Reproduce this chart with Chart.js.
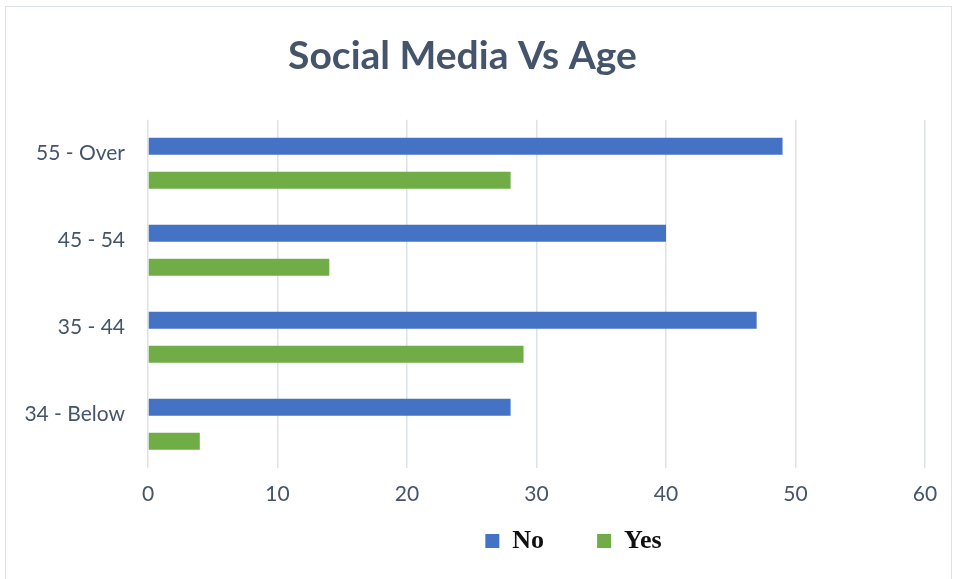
<!DOCTYPE html>
<html>
<head>
<meta charset="utf-8">
<script src="https://cdn.jsdelivr.net/npm/chart.js@4.4.0/dist/chart.umd.min.js"></script>
<style>
  html, body { margin: 0; padding: 0; background: #fff; }
  #wrap { position: absolute; left: 0; top: 0; width: 955px; height: 579px; }
  #frame { position: absolute; left: 5px; top: 6px; width: 945px; height: 590px; border: 1px solid #dde2e8; }
</style>
</head>
<body>
<div id="frame"></div>
<div id="wrap"><canvas id="MyChart"></canvas></div>
<script>
// data
const ageGroups = ['55 - Over', '45 - 54', '35 - 44', '34 - Below'];
const noValues = [49, 40, 47, 28];
const yesValues = [28, 14, 29, 4];
const xTicks = [0, 10, 20, 30, 40, 50, 60];

const textColor = '#44546a';
Chart.defaults.font.family = 'Lato, "Open Sans", sans-serif';

// the legend sits right of centre and lower than the layout puts it
const legendShift = {
  id: 'legendShift',
  afterLayout(chart) {
    const lg = chart.legend;
    lg.left += 111;
    lg.right += 111;
    lg.top = 475;
    lg.bottom = 579;
  }
};

const chartContainer = document.getElementById('MyChart');

const chart = new Chart(chartContainer, {
  type: 'bar',
  data: {
    labels: ageGroups,
    datasets: [{
      label: 'No',
      data: noValues,
      backgroundColor: '#4472c4'
    }, {
      label: 'Yes',
      data: yesValues,
      backgroundColor: '#70ad47'
    }]
  },
  plugins: [legendShift],
  options: {
    indexAxis: 'y',
    responsive: true,
    maintainAspectRatio: false,
    animation: false,
    categoryPercentage: 0.78,
    barPercentage: 0.5,
    layout: {
      padding: { left: 0, right: 30, top: 0, bottom: 18 }
    },
    plugins: {
      title: {
        display: true,
        text: 'Social Media Vs Age',
        color: textColor,
        font: { size: 39, weight: 'bold' },
        padding: { top: 33, bottom: 40 }
      },
      legend: {
        position: 'bottom',
        maxHeight: 40,
        labels: {
          boxWidth: 14,
          boxHeight: 14,
          padding: 53,
          color: '#111',
          font: { family: '"Liberation Serif", serif', size: 26, weight: 'bold' }
        }
      },
      tooltip: { enabled: false }
    },
    scales: {
      x: {
        min: 0,
        max: 60,
        afterBuildTicks: s => { s.ticks = xTicks.map(v => ({ value: v })); },
        grid: { color: '#dde2e8', lineWidth: 1.5, drawTicks: false },
        border: { display: false },
        ticks: { color: textColor, font: { size: 21 }, padding: 14 }
      },
      y: {
        afterFit: s => { s.width = 148; },
        grid: { display: false, drawTicks: false },
        border: { display: false },
        ticks: { color: textColor, font: { size: 21 }, padding: 23, labelOffset: -10 }
      }
    }
  }
});
</script>
</body>
</html>
